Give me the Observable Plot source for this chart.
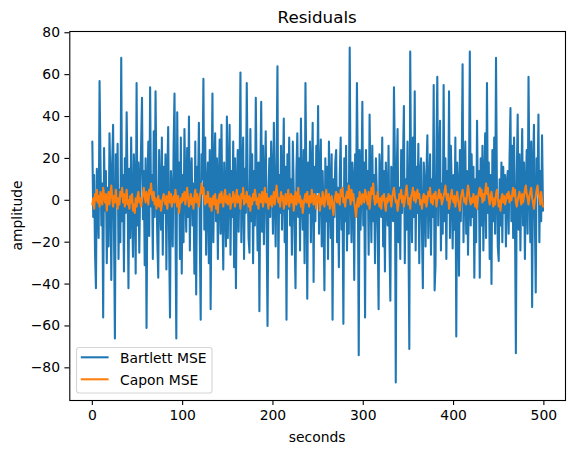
<!DOCTYPE html>
<html><head><meta charset="utf-8">
<script src="https://cdn.jsdelivr.net/npm/d3@7"></script>
<script src="https://cdn.jsdelivr.net/npm/@observablehq/plot@0.6"></script>
<style>body{margin:0;background:#fff}svg{display:block}</style>
</head><body><div id="chart"></div>
<script>
const bartlett = [
28,-8,12,-25,-42,15,3,-18,57,20, -12,8,-56,25,-5,14,-30,6,-22,32, 10,-38,18,36,-15,-66,22,-3,27,-28, 5,-20,68,-10,12,-34,20,-6,42,8, -42,15,-18,30,-4,-27,22,4,-35,56,
-12,18,-25,7,26,49,-9,14,-31,20, -61,5,28,-17,54,-3,12,-28,33,-8, 52,8,-20,-37,24,2,-14,30,-26,16, -6,22,-33,10,35,-19,-56,14,3,-22, 26,51,-10,-66,42,-4,18,-28,30,-35,
12,-20,34,6,-15,25,-8,40,-24,14, 20,-12,8,-35,28,-45,16,2,37,-18, -57,22,10,58,-14,30,-26,6,18,-30, 24,-52,4,51,-20,12,32,-10,20,-28, 8,29,-16,36,-4,-33,18,2,-22,40,
-18,10,36,-26,14,-8,28,-32,20,-42, 6,24,-15,12,61,-20,8,30,-28,15, -6,56,10,-18,-25,34,-10,22,-30,14, -12,49,6,-24,18,-53,10,47,-15,26, -21,8,33,-12,-60,2,20,-8,28,12,
-16,37,4,-22,18,64,-37,12,-6,26, -14,8,39,-20,16,-57,22,-4,30,-12, 10,-26,28,6,-18,-42,14,32,-8,20, -24,39,2,-14,24,-30,56,10,-47,18, -6,28,-20,12,37,-39,16,-10,26,4,
45,-16,8,29,-22,14,-6,-43,20,-10, 16,-28,28,4,-18,22,-57,10,-8,18, 24,-20,6,-32,12,30,-14,2,-59,20, -10,26,-24,8,-16,73,4,-20,18,10, -38,22,-8,56,12,-74,24,-14,6,47,
-12,18,-56,24,-4,14,-26,41,6,-20, 26,-10,12,-30,20,4,-16,-52,22,10, -8,30,-22,14,-34,18,2,-12,26,-18, -48,16,8,-10,54,20,-87,12,34,-20, 6,-28,24,-6,18,45,-30,10,-14,28,
-12,-71,71,4,-20,30,-8,52,-24,16, -6,27,-30,12,20,-14,-42,18,8,-22, 14,31,-18,6,22,-26,10,-8,55,-43, -31,24,59,-12,16,38,-24,8,-16,55, -10,20,-28,14,-6,52,-18,26,6,-23,
12,-14,30,-65,18,6,-36,24,-10,16, 65,-20,8,28,-16,14,-26,4,71,-12, 22,-8,16,-37,10,-20,38,-4,14,-37, 20,-12,26,-24,6,32,-18,56,-6,18, -28,12,-40,24,-10,30,-16,68,6,-22,
-29,10,-12,18,-20,16,-6,12,-22,8, 14,-16,20,44,-10,26,-18,30,-8,-73, 12,41,-14,22,-24,8,34,-12,18,-28, 6,24,-16,59,10,-20,28,-51,14,36, -8,-44,20,6,41,-20,14,-10,31,-5
];
const capon = [
-2,1,-4,3,0,5,-1,2,-3,4, 1,-2,6,2,-1,3,-5,0,4,-2, 3,7,1,-3,2,-1,5,0,-4,1, -2,4,2,6,-1,3,-3,1,5,-2, 0,-4,2,-1,3,-5,-2,-6,1,-3,
2,4,-1,1,-3,0,3,6,2,-1, 4,1,-2,5,3,8,2,0,4,-2, 1,-4,-1,2,-3,0,-5,-2,1,3, 0,-2,2,-4,1,4,-1,3,-3,0, 2,-1,5,1,-3,2,-6,-2,1,-1,
3,0,4,-2,2,6,1,-3,0,3, -2,1,-4,2,5,-1,3,0,-3,2, 4,8,3,6,1,-2,2,-1,4,0, -3,1,-5,-1,2,-2,3,-4,0,-6, 1,3,-1,4,0,-3,2,5,-1,2,
-2,0,3,-4,1,-1,4,2,-3,1, 5,-1,2,0,-4,3,1,6,-2,2, -1,4,0,-3,2,-5,1,-2,3,0, 5,2,-2,1,-4,3,0,-1,4,-3, 2,6,-1,3,0,-4,1,-2,2,-3,
1,4,-2,3,7,2,-1,1,-3,4, 0,2,-4,-1,3,-2,1,5,-3,0, 3,-1,2,-5,0,4,-2,1,6,-1, 2,-3,0,-6,-2,1,3,-1,4,0, -3,2,-1,5,1,-2,3,0,-4,2,
-1,3,-5,1,-2,4,0,-3,2,5, 1,-2,3,-4,0,2,-3,-7,-1,2, 4,-1,3,0,-2,5,2,6,-1,1, -3,2,4,1,7,3,-2,5,0,3, -1,-4,-8,-2,1,-3,4,0,-2,3,
2,-1,5,3,0,-2,4,-4,1,6, 3,8,1,-2,2,-1,4,0,-3,1, -4,2,0,3,-2,-5,1,-1,3,0, 2,-3,1,4,6,2,-1,0,-5,-2, 3,1,5,-1,2,-3,0,4,7,2,
-2,1,-4,2,3,6,0,4,-1,2, 5,1,3,-2,0,-4,1,3,-1,2, -3,0,4,2,6,-1,2,-2,3,1, 4,-3,0,2,5,1,3,-2,0,2, 4,7,2,0,3,-4,-1,2,5,1,
-1,2,-3,1,4,0,-2,-5,1,3, 5,2,-1,1,-2,3,7,4,0,-2, 1,-1,3,0,-3,2,-4,1,4,6, 2,5,-1,3,0,4,8,3,6,1, -2,2,4,0,-3,1,-2,3,5,1,
-3,0,-5,1,3,-1,2,-2,0,3, 1,4,-1,2,0,3,6,2,5,-1, -3,0,2,4,1,-2,3,-1,2,5, 7,3,1,-2,2,4,6,1,-1,-4, 0,2,5,7,3,1,-2,4,0,-3
];
const seconds = bartlett.map((_, i) => i);
const xTicks = [0, 100, 200, 300, 400, 500];
const yTicks = [-80, -60, -40, -20, 0, 20, 40, 60, 80];
const seriesNames = ["Bartlett MSE", "Capon MSE"];
const seriesColors = ["#1f77b4", "#ff7f0e"];
const titleText = "Residuals", xLabel = "seconds", yLabel = "amplitude";

const ML = 69.3, MR = 9, MT = 31, MB = 53, W = 574, H = 453;
const fmt = d => d < 0 ? "\u2212" + (-d) : String(d);

const svgEl = Plot.plot({
  width: W, height: H,
  marginLeft: ML, marginRight: MR, marginTop: MT, marginBottom: MB,
  style: {fontFamily: "'DejaVu Sans', sans-serif", fontSize: "13.9px", background: "#fff", color: "#000", overflow: "visible"},
  x: {domain: [-24.95, 523.95]},
  y: {domain: [-95.6, 80.6]},
  marks: [
    Plot.lineY(bartlett, {x: seconds, stroke: seriesColors[0], strokeWidth: 2.08, strokeLinejoin: "round"}),
    Plot.lineY(capon, {x: seconds, stroke: seriesColors[1], strokeWidth: 2.08, strokeLinejoin: "round"}),
    Plot.frame({stroke: "#000", strokeWidth: 1.1}),
    Plot.axisX({ticks: xTicks, tickSize: 4.9, tickPadding: 4.9, tickFormat: fmt, label: null, strokeWidth: 1.1}),
    Plot.axisY({ticks: yTicks, tickSize: 4.9, tickPadding: 4.9, tickFormat: fmt, label: null, strokeWidth: 1.1})
  ]
});
document.getElementById("chart").appendChild(svgEl);

const svg = d3.select(svgEl);
const cx = (ML + (W - MR)) / 2;
svg.append("text").attr("x", cx).attr("y", 23).attr("text-anchor", "middle")
  .attr("font-size", "16.7px").attr("fill", "#000").text(titleText);
svg.append("text").attr("x", cx).attr("y", 441.5).attr("text-anchor", "middle")
  .attr("font-size", "13.9px").attr("fill", "#000").text(xLabel);
svg.append("text").attr("transform", `translate(21.5,${(MT + H - MB) / 2}) rotate(-90)`)
  .attr("text-anchor", "middle").attr("font-size", "13.9px").attr("fill", "#000").text(yLabel);

const lg = svg.append("g");
lg.append("rect").attr("x", 76.5).attr("y", 347.5).attr("width", 135.5).attr("height", 45.5)
  .attr("rx", 2.8).attr("fill", "#fff").attr("fill-opacity", 0.8).attr("stroke", "#d6d6d6").attr("stroke-width", 1.1);
seriesNames.forEach((name, i) => {
  const y = 357.3 + i * 22;
  lg.append("line").attr("x1", 80.8).attr("x2", 108.6).attr("y1", y).attr("y2", y)
    .attr("stroke", seriesColors[i]).attr("stroke-width", 2.08);
  lg.append("text").attr("x", 120).attr("y", y + 5.4).attr("text-anchor", "start")
    .attr("font-size", "13.9px").attr("fill", "#000").text(name);
});
</script>
</body></html>
